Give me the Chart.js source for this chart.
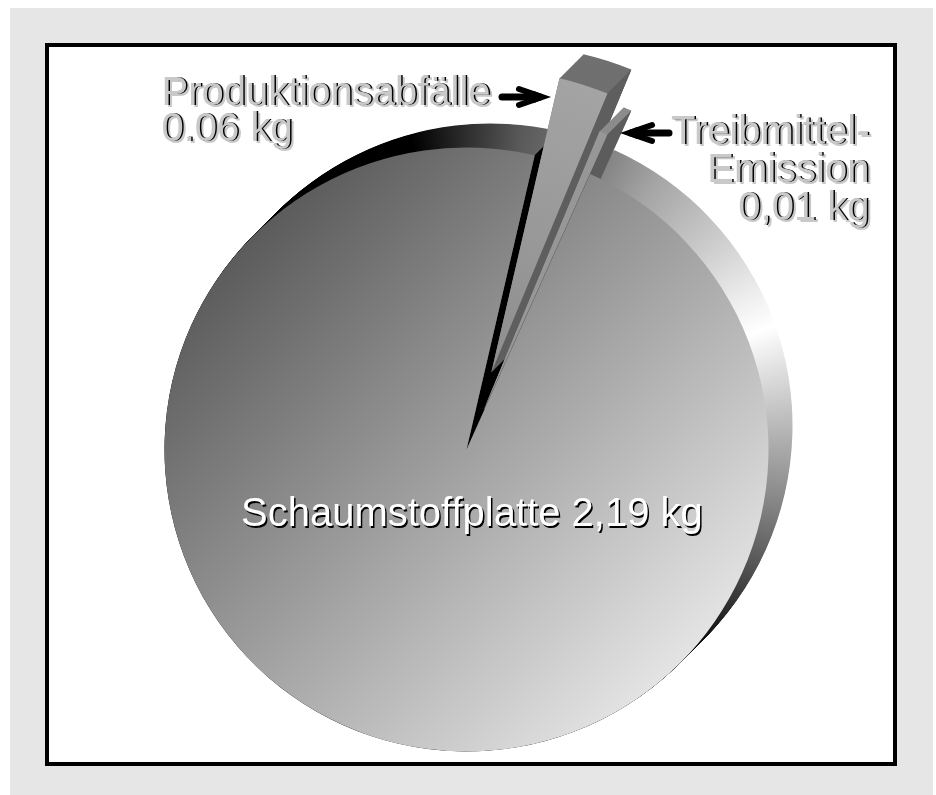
<!DOCTYPE html>
<html>
<head>
<meta charset="utf-8">
<style>
  html, body { margin: 0; padding: 0; background: #fff; }
  canvas { display: block; }
</style>
<script src="https://cdn.jsdelivr.net/npm/chart.js@4"></script>
</head>
<body>
<canvas id="pie" width="936" height="795"></canvas>
<script>
const sliceNames = ['Schaumstoffplatte', 'Produktionsabfälle', 'Treibmittel-Emission']
const sliceKg = [2.19, 0.06, 0.01]
const slicePull = [0, 81, 43]

const labelFont = '40px "Liberation Sans"'
const ext = { x: 24, y: -24 }

const canvas = document.getElementById('pie')
const ctx = canvas.getContext('2d')

// main face goes dark upper left -> light lower right
const mainFace = ctx.createLinearGradient(190, 190, 710, 710)
mainFace.addColorStop(0, '#4a4a4a')
mainFace.addColorStop(1, '#f0f0f0')

const prodFace = ctx.createLinearGradient(490, 372, 600, 90)
prodFace.addColorStop(0, '#8e8e8e')
prodFace.addColorStop(1, '#a4a4a4')

// rim shading runs around the pie, 0 = 12 o'clock
const rim = ctx.createConicGradient(-Math.PI / 2, 466.5, 449.5)
const rimStops = [
  [0, '#2e2e2e'], [10, '#5a5a5a'], [25, '#808080'], [35, '#a4a4a4'], [50, '#cccccc'], [62, '#efefef'],
  [68, '#ffffff'], [75, '#e2e2e2'], [88, '#b0b0b0'], [100, '#858585'], [112, '#555555'],
  [125, '#1c1c1c'], [134, '#000000'], [350, '#000000'], [360, '#2e2e2e']
]
rimStops.forEach(([deg, col]) => rim.addColorStop(deg / 360, col))

const rimColors = [rim, '#707070', '#8c8c8c']
const wallColors = ['#000000', '#5e5e5e', '#5c5c5c']

function extrude(c, arc, i) {
  const R = arc.outerRadius
  c.fillStyle = rimColors[i]
  const steps = 40
  for (let s = steps; s >= 0; s--) {
    const dx = ext.x * s / steps
    const dy = ext.y * s / steps
    c.beginPath()
    c.moveTo(arc.x + dx, arc.y + dy)
    c.arc(arc.x + dx, arc.y + dy, R, arc.startAngle, arc.endAngle)
    c.closePath()
    c.fill()
  }
  // side wall on the clockwise end edge
  const ex = arc.x + R * Math.cos(arc.endAngle)
  const ey = arc.y + R * Math.sin(arc.endAngle)
  c.fillStyle = wallColors[i]
  c.beginPath()
  c.moveTo(arc.x, arc.y)
  c.lineTo(ex, ey)
  c.lineTo(ex + ext.x, ey + ext.y)
  c.lineTo(arc.x + ext.x, arc.y + ext.y)
  c.closePath()
  c.fill()
}

function grayText(c, str, x, y) {
  c.fillStyle = '#c9c9c9'
  c.fillText(str, x + 2, y + 2)
  c.fillStyle = '#000000'
  c.fillText(str, x, y)
  c.fillStyle = '#c9c9c9'
  c.fillText(str, x - 1.5, y - 0.5)
}

function arrow(c, fromX, tipX, y) {
  const dir = tipX > fromX ? 1 : -1
  c.strokeStyle = '#000'
  c.fillStyle = '#000'
  c.lineCap = 'round'
  c.lineWidth = 7
  c.beginPath()
  c.moveTo(fromX + dir * 3, y)
  c.lineTo(tipX - dir * 8, y)
  c.stroke()
  c.lineWidth = 6
  c.beginPath()
  c.moveTo(tipX - dir * 29, y - 8)
  c.lineTo(tipX - dir * 6, y)
  c.lineTo(tipX - dir * 29, y + 8)
  c.stroke()
  c.beginPath()
  c.moveTo(tipX, y)
  c.lineTo(tipX - dir * 14, y - 6)
  c.lineTo(tipX - dir * 14, y + 6)
  c.closePath()
  c.fill()
}

const pieceDeco = {
  id: 'pieceDeco',
  afterDatasetsUpdate(chart) {
    const arcs = chart.getDatasetMeta(0).data
    arcs.forEach((arc, i) => {
      const mid = (arc.startAngle + arc.endAngle) / 2
      arc.x += slicePull[i] * Math.cos(mid)
      arc.y += slicePull[i] * Math.sin(mid)
    })
  },
  beforeDraw(chart) {
    const c = chart.ctx
    c.save()
    c.fillStyle = '#ffffff'
    c.fillRect(0, 0, 936, 795)
    c.fillStyle = '#e6e6e6'
    c.fillRect(10, 8, 923, 787)
    c.fillStyle = '#ffffff'
    c.fillRect(47, 45, 848, 719)
    c.strokeStyle = '#000000'
    c.lineWidth = 4
    c.strokeRect(47, 45, 848, 719)
    c.restore()
  },
  beforeDatasetsDraw(chart) {
    // all the side walls go under the faces, the library then draws the faces in order
    const c = chart.ctx
    const arcs = chart.getDatasetMeta(0).data
    c.save()
    extrude(c, arcs[0], 0)
    extrude(c, arcs[1], 1)
    extrude(c, arcs[2], 2)
    c.restore()
  },
  afterDraw(chart) {
    const c = chart.ctx
    c.save()
    c.font = labelFont
    c.textBaseline = 'alphabetic'

    c.textAlign = 'left'
    grayText(c, sliceNames[1], 163, 105)
    grayText(c, '0.06 kg', 163, 141)

    c.textAlign = 'right'
    grayText(c, 'Treibmittel-', 871, 144)
    grayText(c, 'Emission', 871, 182)
    grayText(c, '0,01 kg', 871, 220)

    c.textAlign = 'left'
    c.fillStyle = '#000000'
    c.fillText(sliceNames[0] + ' 2,19 kg', 242.5, 527.5)
    c.fillStyle = '#ffffff'
    c.fillText(sliceNames[0] + ' 2,19 kg', 241, 526)

    arrow(c, 499, 548, 97)
    arrow(c, 672, 623, 133)
    c.restore()
  }
}

new Chart(canvas, {
  type: 'pie',
  data: {
    labels: sliceNames,
    datasets: [{
      data: sliceKg,
      backgroundColor: [mainFace, prodFace, '#979797'],
      borderWidth: 0
    }]
  },
  options: {
    responsive: false,
    animation: false,
    rotation: 24.2,
    radius: 302,
    layout: { padding: { left: 0, right: 3, top: 104, bottom: 0 } },
    plugins: { legend: false, tooltip: false }
  },
  plugins: [pieceDeco]
})
</script>
</body>
</html>
